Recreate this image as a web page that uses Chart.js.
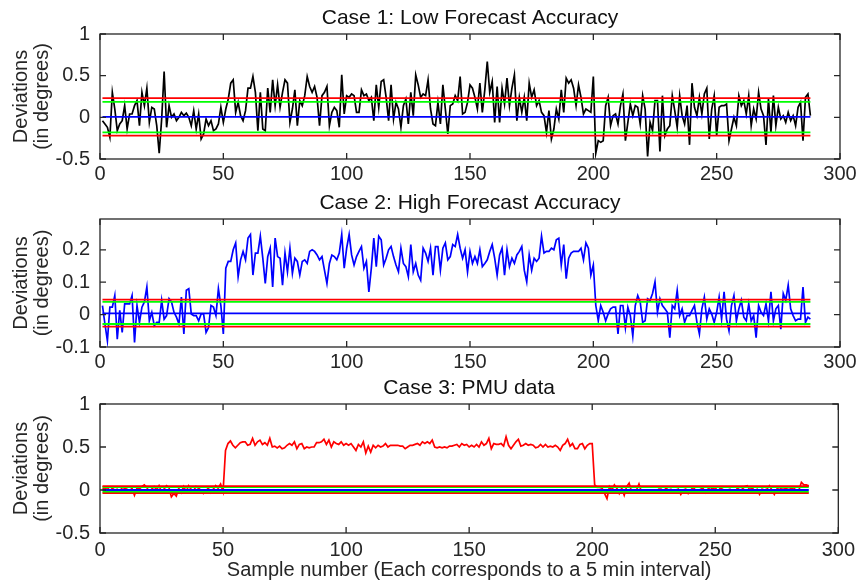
<!DOCTYPE html>
<html>
<head>
<meta charset="utf-8">
<script src="https://cdn.jsdelivr.net/npm/chart.js@4.4.1/dist/chart.umd.min.js"></script>
<style>
  html, body { margin: 0; padding: 0; background: #fff; }
  #wrap { position: relative; width: 860px; height: 585px; overflow: hidden; }
  canvas { position: absolute; left: 0; }
</style>
</head>
<body>
<div id="wrap">
  <canvas id="c1"></canvas>
  <canvas id="c2"></canvas>
  <canvas id="c3"></canvas>
</div>
<script>
// deviation per 5-minute sample (degrees), 288 samples per case
const case1 = [
  -0.04,-0.08,-0.12,-0.24,0.30,0.10,-0.16,-0.08,-0.04,0.14,
  -0.14,0.04,0.04,0.14,0.20,-0.10,0.30,0.14,0.35,-0.06,
  0.12,0.10,-0.10,-0.43,-0.02,0.55,-0.12,0.14,0.00,0.04,
  -0.04,0.00,0.06,0.02,0.05,0.00,-0.10,0.08,-0.14,0.04,
  -0.26,-0.20,-0.02,-0.10,-0.04,-0.16,-0.14,-0.08,0.12,-0.06,
  0.10,0.22,0.41,0.45,0.06,0.18,0.02,-0.04,0.08,0.35,
  0.35,0.49,0.30,-0.16,0.30,-0.14,-0.16,0.35,0.06,0.45,
  0.14,0.39,0.12,0.30,0.45,0.41,-0.06,0.10,0.33,-0.10,
  0.20,0.14,0.26,0.49,0.37,0.30,0.37,0.24,-0.10,0.26,
  0.30,0.37,-0.10,0.06,0.12,0.08,-0.12,0.51,0.04,0.26,
  0.24,0.28,0.26,0.06,0.06,0.33,0.26,0.28,0.20,0.24,
  -0.04,0.39,0.12,0.43,0.45,0.24,-0.04,0.39,-0.02,0.18,
  0.10,-0.12,0.14,0.22,-0.08,0.30,0.02,0.51,0.39,0.24,
  0.28,0.26,0.45,0.10,-0.08,-0.10,0.18,-0.08,0.39,0.10,
  -0.20,0.14,0.16,0.26,0.20,0.49,0.04,0.06,0.18,0.39,
  0.35,0.24,0.10,0.41,0.06,0.33,0.67,0.30,0.43,-0.06,
  0.37,-0.06,0.35,0.16,0.47,0.14,0.35,0.51,-0.04,0.24,
  0.06,0.24,-0.04,0.41,0.24,0.33,0.14,0.20,0.06,0.02,
  -0.18,0.08,-0.26,-0.14,0.10,-0.02,0.33,0.06,0.47,0.41,
  0.45,0.35,0.14,0.39,0.24,0.04,0.10,0.08,0.06,0.49,
  -0.43,-0.28,-0.30,-0.28,0.14,0.24,-0.10,0.02,0.04,-0.08,
  0.14,0.28,-0.28,-0.06,0.16,0.02,0.14,0.12,-0.08,0.26,
  0.10,-0.47,-0.06,-0.16,0.20,0.20,-0.41,0.26,-0.22,-0.14,
  -0.10,0.26,0.08,-0.12,0.26,0.02,-0.08,0.14,-0.33,0.41,
  0.12,0.02,0.24,0.04,0.28,0.35,-0.26,0.10,0.26,-0.22,
  0.12,0.14,0.14,0.16,-0.28,-0.14,0.00,-0.10,0.26,0.14,
  0.20,0.04,0.26,-0.10,0.10,-0.02,0.30,0.10,0.02,-0.33,
  0.22,-0.18,0.26,-0.10,0.12,-0.02,0.02,-0.06,0.06,-0.04,
  0.02,-0.10,0.12,0.18,-0.28,0.24,0.28,0.02
];

const case2 = [
  0.028,-0.029,-0.081,0.023,0.023,0.059,-0.076,0.013,-0.055,0.033,
  0.033,0.033,0.059,-0.086,0.028,-0.024,0.023,0.039,0.085,-0.019,
  0.007,-0.034,-0.024,-0.024,0.044,-0.014,-0.003,0.049,0.039,0.007,
  -0.008,-0.029,0.054,-0.060,0.075,0.080,0.002,-0.003,-0.003,-0.019,
  0.002,0.002,-0.055,-0.040,0.028,0.023,-0.003,0.080,0.028,-0.060,
  0.143,0.164,0.164,0.200,0.221,0.117,0.169,0.195,0.169,0.236,
  0.247,0.122,0.190,0.190,0.242,0.174,0.096,0.179,0.205,0.085,
  0.236,0.179,0.174,0.091,0.190,0.132,0.205,0.127,0.174,0.164,
  0.122,0.164,0.169,0.158,0.195,0.200,0.195,0.184,0.169,0.179,
  0.137,0.096,0.158,0.184,0.179,0.169,0.190,0.247,0.143,0.205,
  0.247,0.184,0.153,0.179,0.195,0.210,0.143,0.164,0.070,0.143,
  0.236,0.148,0.242,0.231,0.153,0.174,0.200,0.210,0.179,0.153,
  0.132,0.205,0.158,0.148,0.117,0.216,0.132,0.158,0.122,0.106,
  0.205,0.190,0.164,0.205,0.122,0.210,0.210,0.137,0.205,0.221,
  0.169,0.179,0.216,0.210,0.247,0.205,0.174,0.200,0.132,0.195,
  0.158,0.179,0.158,0.200,0.148,0.158,0.169,0.195,0.216,0.174,
  0.122,0.184,0.205,0.122,0.200,0.148,0.174,0.158,0.184,0.195,
  0.210,0.137,0.101,0.184,0.137,0.174,0.164,0.174,0.242,0.190,
  0.195,0.195,0.205,0.200,0.231,0.236,0.153,0.216,0.111,0.174,
  0.190,0.195,0.195,0.195,0.205,0.169,0.221,0.205,0.122,0.153,
  0.028,-0.019,0.028,0.007,-0.019,0.002,0.018,0.023,0.023,-0.060,
  0.028,0.028,-0.040,0.023,-0.003,-0.066,0.028,0.059,0.039,-0.024,
  -0.019,0.049,0.044,0.065,0.101,0.007,0.049,0.028,0.018,0.007,
  -0.071,0.028,0.018,0.075,-0.003,0.018,-0.024,-0.003,-0.003,0.013,
  0.028,-0.024,-0.060,0.018,0.054,-0.014,0.018,0.002,-0.024,0.007,
  0.054,-0.014,0.070,-0.014,-0.050,0.028,0.059,-0.019,0.018,0.044,
  -0.008,-0.019,0.033,-0.019,-0.003,-0.071,0.028,0.007,-0.003,0.033,
  -0.019,0.070,-0.019,0.018,0.028,-0.045,0.065,0.044,0.091,0.018,
  -0.003,-0.019,-0.014,-0.014,0.085,-0.024,-0.008,-0.014
];

const case3 = [
  0.02,0.01,0.03,-0.01,0.02,0.00,0.01,-0.02,0.03,0.02,
  0.01,-0.01,0.02,-0.06,0.02,0.01,0.04,0.06,0.03,-0.02,
  0.01,0.04,0.00,0.05,-0.02,0.01,0.05,0.03,-0.08,-0.04,
  -0.07,0.02,-0.03,0.04,-0.02,0.05,0.01,-0.01,0.04,0.02,
  0.00,-0.04,-0.01,0.02,-0.03,0.01,0.05,0.02,0.07,-0.02,
  0.46,0.54,0.57,0.52,0.49,0.52,0.55,0.56,0.56,0.52,
  0.53,0.60,0.52,0.56,0.58,0.53,0.55,0.52,0.60,0.50,
  0.51,0.49,0.51,0.48,0.49,0.52,0.54,0.52,0.56,0.48,
  0.53,0.54,0.48,0.50,0.49,0.50,0.50,0.55,0.55,0.56,
  0.59,0.53,0.58,0.50,0.56,0.54,0.53,0.56,0.52,0.54,
  0.52,0.54,0.50,0.46,0.53,0.50,0.56,0.43,0.51,0.44,
  0.52,0.49,0.52,0.50,0.51,0.54,0.50,0.52,0.52,0.52,
  0.52,0.51,0.51,0.48,0.50,0.52,0.52,0.53,0.54,0.52,
  0.56,0.54,0.56,0.54,0.58,0.50,0.49,0.50,0.49,0.50,
  0.49,0.51,0.51,0.52,0.53,0.50,0.54,0.52,0.53,0.50,
  0.52,0.50,0.53,0.50,0.56,0.52,0.54,0.60,0.48,0.54,
  0.53,0.53,0.54,0.51,0.62,0.52,0.48,0.52,0.56,0.59,
  0.51,0.52,0.54,0.52,0.53,0.52,0.49,0.50,0.53,0.50,
  0.53,0.50,0.51,0.50,0.52,0.50,0.46,0.52,0.54,0.59,
  0.51,0.54,0.48,0.48,0.53,0.54,0.48,0.52,0.54,0.54,
  0.06,0.03,0.03,0.02,-0.04,-0.10,0.04,0.00,0.06,0.02,
  -0.04,0.02,-0.06,0.04,0.08,-0.02,0.00,0.00,0.07,-0.02,
  0.00,-0.01,-0.02,-0.03,0.00,-0.02,0.01,0.01,-0.01,0.02,
  0.00,0.01,-0.02,0.00,0.01,-0.05,0.00,0.01,-0.04,0.00,
  0.03,0.00,-0.01,0.01,0.02,-0.03,0.01,0.03,0.01,0.03,
  -0.02,0.02,0.01,-0.02,0.00,0.01,-0.01,-0.02,0.02,0.00,
  0.01,0.04,0.05,0.00,0.03,-0.02,0.01,-0.05,0.01,0.00,
  0.01,0.05,0.00,-0.05,0.01,0.03,0.01,0.01,0.02,0.03,
  0.01,0.03,-0.03,0.00,0.09,0.06,0.06,0.05
];

// threshold bands: [upper, lower]
const redLimits1 = [0.23, -0.22];
const greenLimits1 = [0.185, -0.18];
const blueLevel1 = 0.005;
const redLimits2 = [0.046, -0.037];
const greenLimits2 = [0.039, -0.029];
const blueLevel2 = 0.004;
const redLimits3 = [0.046, -0.035];
const greenLimits3 = [0.035, -0.02];
const blueLevel3 = 0.0;

const titles = ["Case 1: Low Forecast Accuracy", "Case 2: High Forecast Accuracy", "Case 3: PMU data"];
const xTicks = [0, 50, 100, 150, 200, 250, 300];
const yTicks1 = [-0.5, 0, 0.5, 1];
const yTicks2 = [-0.1, 0, 0.1, 0.2];
const yTicks3 = [-0.5, 0, 0.5, 1];
const yLabel = ["Deviations", "(in degrees)"];
const xLabel = "Sample number (Each corresponds to a 5 min interval)";

const samples = case1.map((_, i) => i + 1);
const FONT = "'Liberation Sans', Arial, Helvetica, sans-serif";
const AXIS_COLOR = "#262626";

const toPoints = (values) => values.map((v, i) => ({ x: samples[i], y: v }));
const flat = (v) => [{ x: samples[0], y: v }, { x: samples[samples.length - 1], y: v }];
const fmt = (v) => String(Math.round(v * 1000) / 1000);

// MATLAB-like box with inward ticks on all four sides
const boxPlugin = {
  id: "box",
  afterDraw(chart) {
    const { ctx, chartArea: a, scales } = chart;
    const len = 6;
    ctx.save();
    ctx.strokeStyle = AXIS_COLOR;
    ctx.lineWidth = 1.3;
    ctx.strokeRect(a.left, a.top, a.right - a.left, a.bottom - a.top);
    ctx.beginPath();
    scales.x.ticks.forEach((t) => {
      const px = scales.x.getPixelForValue(t.value);
      ctx.moveTo(px, a.bottom); ctx.lineTo(px, a.bottom - len);
      ctx.moveTo(px, a.top); ctx.lineTo(px, a.top + len);
    });
    scales.y.ticks.forEach((t) => {
      const py = scales.y.getPixelForValue(t.value);
      ctx.moveTo(a.left, py); ctx.lineTo(a.left + len, py);
      ctx.moveTo(a.right, py); ctx.lineTo(a.right - len, py);
    });
    ctx.stroke();
    ctx.restore();
  }
};

function makePanel(id, geom, cfg) {
  const canvas = document.getElementById(id);
  const titleH = 34;
  canvas.width = 860;
  canvas.height = titleH + geom.plotH + geom.xAxisH;
  canvas.style.top = (geom.plotTop - titleH) + "px";

  const lineDs = (data, color, width, order) => ({
    data, borderColor: color, borderWidth: width, pointRadius: 0,
    tension: 0, fill: false, order
  });

  new Chart(canvas, {
    type: "line",
    data: {
      datasets: [
        lineDs(toPoints(cfg.values), cfg.color, 1.7, 1),
        lineDs(flat(cfg.red[0]), "#ff0000", 1.8, 0),
        lineDs(flat(cfg.green[0]), "#00ff00", 1.8, 0),
        lineDs(flat(cfg.blue), "#0000ff", 1.8, 0),
        lineDs(flat(cfg.green[1]), "#00ff00", 1.8, 0),
        lineDs(flat(cfg.red[1]), "#ff0000", 1.8, 0)
      ]
    },
    options: {
      responsive: false,
      animation: false,
      layout: { padding: { left: 0, right: 20, top: 0, bottom: 0 } },
      plugins: {
        legend: { display: false },
        tooltip: { enabled: false },
        title: {
          display: true, text: cfg.title, fullSize: false, color: "#111",
          font: { family: FONT, size: 21, weight: "normal", lineHeight: "24px" },
          padding: { top: 6, bottom: 4 }
        }
      },
      scales: {
        x: {
          type: "linear", min: 0, max: 300,
          afterBuildTicks: (s) => { s.ticks = xTicks.map((v) => ({ value: v })); },
          afterFit: (s) => { s.height = geom.xAxisH; },
          grid: { display: false, drawTicks: false },
          border: { display: false },
          ticks: {
            color: AXIS_COLOR, padding: geom.xPad, maxRotation: 0, autoSkip: false,
            font: { family: FONT, size: 20, lineHeight: 1.2 }, callback: fmt
          },
          title: {
            display: !!cfg.xTitle, text: cfg.xTitle || "", color: AXIS_COLOR,
            font: { family: FONT, size: 20, lineHeight: 1.2 }, padding: { top: 0, bottom: 3 }
          }
        },
        y: {
          type: "linear", min: cfg.yMin, max: cfg.yMax,
          afterBuildTicks: (s) => { s.ticks = cfg.yTicks.map((v) => ({ value: v })); },
          afterFit: (s) => { s.width = 100; },
          grid: { display: false, drawTicks: false },
          border: { display: false },
          ticks: {
            color: AXIS_COLOR, padding: 10, autoSkip: false,
            font: { family: FONT, size: 20, lineHeight: 1.2 }, callback: fmt
          },
          title: {
            display: true, text: yLabel, color: AXIS_COLOR,
            font: { family: FONT, size: 20, lineHeight: 1.05 }, padding: { top: 11, bottom: 0 }
          }
        }
      }
    },
    plugins: [boxPlugin]
  });
}

makePanel("c1", { plotTop: 34, plotH: 125, xAxisH: 30, xPad: 3 }, {
  title: titles[0], values: case1, color: "#000000",
  red: redLimits1, green: greenLimits1, blue: blueLevel1,
  yMin: -0.5, yMax: 1, yTicks: yTicks1
});
makePanel("c2", { plotTop: 219, plotH: 128, xAxisH: 30, xPad: 3 }, {
  title: titles[1], values: case2, color: "#0000ff",
  red: redLimits2, green: greenLimits2, blue: blueLevel2,
  yMin: -0.1, yMax: 0.295, yTicks: yTicks2
});
makePanel("c3", { plotTop: 404, plotH: 129, xAxisH: 52, xPad: 5 }, {
  title: titles[2], values: case3, color: "#ff0000",
  red: redLimits3, green: greenLimits3, blue: blueLevel3,
  yMin: -0.5, yMax: 1, yTicks: yTicks3, xTitle: xLabel
});
</script>
</body>
</html>
